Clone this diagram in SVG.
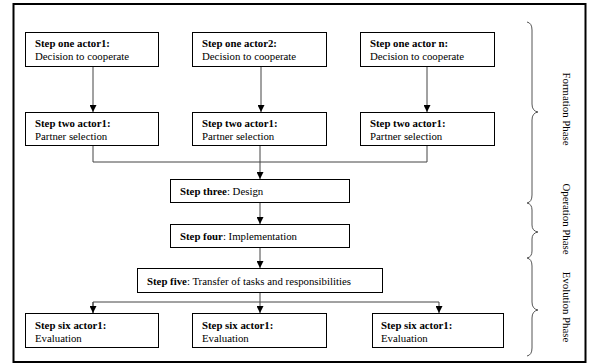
<svg xmlns="http://www.w3.org/2000/svg" width="589" height="364" viewBox="0 0 589 364">
  <style>
    .box { fill: #fff; stroke: #000; stroke-width: 1; }
    .b { font-weight: bold; }
    .conn { fill: none; stroke: #444; stroke-width: 1; }
    .brace { fill: none; stroke: #555; stroke-width: 1; }
  </style>
  <defs>
    <marker id="arrow" viewBox="0 0 8 8" refX="8" refY="4" markerWidth="7" markerHeight="7" markerUnits="userSpaceOnUse" orient="auto">
      <path d="M0,0 L8,4 L0,8 Z" fill="#000"/>
    </marker>
  </defs>

  <rect x="0" y="0" width="589" height="364" fill="#fff"/>
  <!-- outer frame -->
  <rect x="13.5" y="4" width="572" height="358" fill="none" stroke="#000" stroke-width="2"/>

  <!-- connectors -->
  <g id="connectors">
    <line class="conn" x1="93" y1="67" x2="93" y2="112" marker-end="url(#arrow)"/>
    <line class="conn" x1="261" y1="67" x2="261" y2="112" marker-end="url(#arrow)"/>
    <line class="conn" x1="427" y1="67" x2="427" y2="112" marker-end="url(#arrow)"/>
    <polyline class="conn" points="93,145 93,162 427,162 427,145"/>
    <line class="conn" x1="260" y1="145" x2="260" y2="179" marker-end="url(#arrow)"/>
    <line class="conn" x1="260" y1="202" x2="260" y2="224" marker-end="url(#arrow)"/>
    <line class="conn" x1="260" y1="247" x2="260" y2="268" marker-end="url(#arrow)"/>
    <line class="conn" x1="260" y1="292" x2="260" y2="313" marker-end="url(#arrow)"/>
    <polyline class="conn" points="93,313 93,302 439,302 439,313" marker-end="url(#arrow)"/>
    <line class="conn" x1="93" y1="302" x2="93" y2="313" marker-end="url(#arrow)"/>
  </g>

  <g font-family="Liberation Serif, Times New Roman, serif" font-size="10.8" fill="#000">
    <!-- row one -->
    <g id="step1-actor1">
      <rect class="box" x="25.5" y="32.5" width="133" height="34"/>
      <text class="b" x="35" y="47">Step one actor1:</text>
      <text x="35" y="60">Decision to cooperate</text>
    </g>
    <g id="step1-actor2">
      <rect class="box" x="192.5" y="32.5" width="134" height="34"/>
      <text class="b" x="202" y="47">Step one actor2:</text>
      <text x="202" y="60">Decision to cooperate</text>
    </g>
    <g id="step1-actorn">
      <rect class="box" x="360.5" y="32.5" width="134" height="34"/>
      <text class="b" x="370" y="47">Step one actor n:</text>
      <text x="370" y="60">Decision to cooperate</text>
    </g>

    <!-- row two -->
    <g id="step2-actor1">
      <rect class="box" x="25.5" y="112.5" width="133" height="33"/>
      <text class="b" x="35" y="127">Step two actor1:</text>
      <text x="35" y="140">Partner selection</text>
    </g>
    <g id="step2-actor2">
      <rect class="box" x="192.5" y="112.5" width="134" height="33"/>
      <text class="b" x="202" y="127">Step two actor1:</text>
      <text x="202" y="140">Partner selection</text>
    </g>
    <g id="step2-actorn">
      <rect class="box" x="360.5" y="112.5" width="134" height="33"/>
      <text class="b" x="370" y="127">Step two actor1:</text>
      <text x="370" y="140">Partner selection</text>
    </g>

    <!-- steps three to five -->
    <g id="step3">
      <rect class="box" x="170.5" y="179.5" width="179" height="23"/>
      <text x="180" y="195"><tspan class="b">Step three</tspan>: Design</text>
    </g>
    <g id="step4">
      <rect class="box" x="170.5" y="224.5" width="179" height="23"/>
      <text x="180" y="240"><tspan class="b">Step four</tspan>: Implementation</text>
    </g>
    <g id="step5">
      <rect class="box" x="137.5" y="268.5" width="245" height="24"/>
      <text x="147" y="285"><tspan class="b">Step five</tspan>: Transfer of tasks and responsibilities</text>
    </g>

    <!-- row six -->
    <g id="step6-actor1">
      <rect class="box" x="25.5" y="313.5" width="133" height="34"/>
      <text class="b" x="35" y="329">Step six actor1:</text>
      <text x="35" y="342">Evaluation</text>
    </g>
    <g id="step6-actor2">
      <rect class="box" x="192.5" y="313.5" width="134" height="34"/>
      <text class="b" x="202" y="329">Step six actor1:</text>
      <text x="202" y="342">Evaluation</text>
    </g>
    <g id="step6-actorn">
      <rect class="box" x="372.5" y="313.5" width="131" height="34"/>
      <text class="b" x="381" y="329">Step six actor1:</text>
      <text x="381" y="342">Evaluation</text>
    </g>

    <!-- phase labels -->
    <g id="phase-labels">
      <text transform="translate(563,109) rotate(90)" text-anchor="middle">Formation Phase</text>
      <text transform="translate(563,219) rotate(90)" text-anchor="middle">Operation Phase</text>
      <text transform="translate(563,307) rotate(90)" text-anchor="middle">Evolution Phase</text>
    </g>
  </g>

  <!-- phase braces -->
  <g id="braces">
    <path class="brace" d="M527,22 Q532,23 532,30 L532,104 Q532,111 538,112 Q532,113 532,120 L532,195 Q532,202 527,203"/>
    <path class="brace" d="M527,203 Q532,204 532,210 L532,225 Q532,231 538,232 Q532,233 532,239 L532,251 Q532,257 527,258"/>
    <path class="brace" d="M527,258 Q532,259 532,266 L532,302 Q532,309 538,310 Q532,311 532,318 L532,348 Q532,355 527,356"/>
  </g>
</svg>
